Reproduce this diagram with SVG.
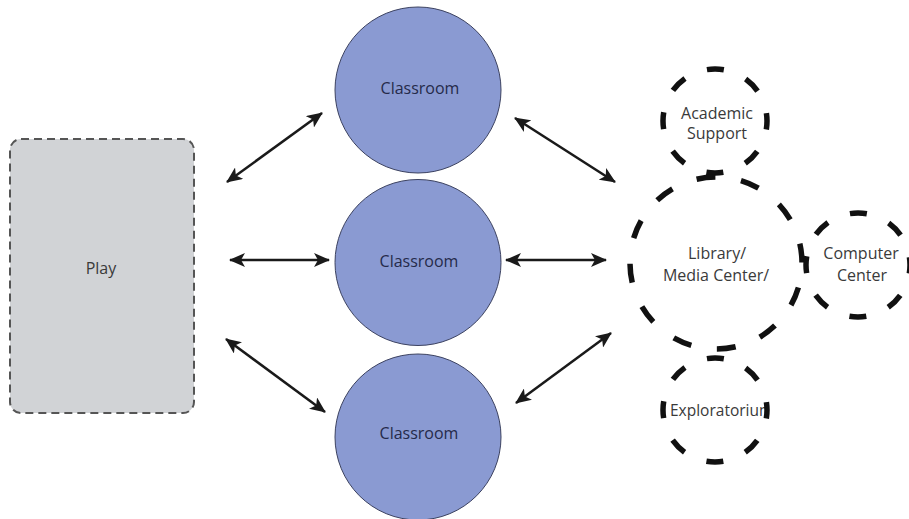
<svg xmlns="http://www.w3.org/2000/svg" width="909" height="519" viewBox="0 0 909 519">
<style>
.cls{fill:#8a9ad2;stroke:#3c4260;stroke-width:1}
.clst{font-family:"Open Sans","Noto Sans",sans-serif;font-size:16px;fill:#252a4a;text-anchor:middle}
.lbl{font-family:"Open Sans","Noto Sans",sans-serif;font-size:16px;fill:#3a3a3a;text-anchor:middle}
.dsm{fill:none;stroke:#111;stroke-width:5.5;stroke-dasharray:17 23.84;stroke-dashoffset:8.5}
.dlg{fill:none;stroke:#111;stroke-width:5.5;stroke-dasharray:19 26;stroke-dashoffset:20}
.arr{stroke:#1a1a1a;stroke-width:2.5;fill:none;marker-start:url(#ah);marker-end:url(#ah)}
</style>
<defs>
<marker id="ah" viewBox="0 0 16 14" markerWidth="16" markerHeight="14" refX="15" refY="7" orient="auto-start-reverse" markerUnits="userSpaceOnUse">
<path d="M0,0 L16,7 L0,14 L4,7 z" fill="#1a1a1a"/>
</marker>
<clipPath id="expclip"><rect x="660" y="390" width="107" height="40"/></clipPath>
</defs>
<rect width="909" height="519" fill="#ffffff"/>
<g id="play">
<rect x="10" y="139" width="184" height="274" rx="11" fill="#d1d3d6" stroke="#555" stroke-width="2" stroke-dasharray="8 5"/>
<text class="lbl" x="101" y="274">Play</text>
</g>
<g id="classroom1">
<circle class="cls" cx="418" cy="90" r="83"/>
<text class="clst" x="420" y="94">Classroom</text>
</g>
<g id="classroom2">
<circle class="cls" cx="418" cy="262.5" r="83"/>
<text class="clst" x="419" y="267">Classroom</text>
</g>
<g id="classroom3">
<circle class="cls" cx="418" cy="437" r="83"/>
<text class="clst" x="419" y="439">Classroom</text>
</g>
<g id="academic">
<circle class="dsm" cx="715" cy="121" r="52"/>
<text class="lbl" x="717" y="119" font-size="14.5">Academic</text>
<text class="lbl" x="717" y="139" font-size="14.5">Support</text>
</g>
<g id="library">
<circle class="dlg" cx="716" cy="263" r="86"/>
<text class="lbl" x="717" y="259">Library/</text>
<text class="lbl" x="716" y="281">Media Center/</text>
</g>
<g id="computer">
<circle class="dsm" cx="858" cy="265" r="52"/>
<text class="lbl" x="861" y="259">Computer</text>
<text class="lbl" x="862" y="281">Center</text>
</g>
<g id="exploratorium">
<text x="670" y="416" clip-path="url(#expclip)" style="font-family:'Open Sans','Noto Sans',sans-serif;font-size:15.5px;fill:#3a3a3a">Exploratorium</text>
<circle class="dsm" cx="715" cy="410" r="52"/>
</g>
<g id="connectors">
<line class="arr" x1="227" y1="182" x2="322" y2="113"/>
<line class="arr" x1="230" y1="260" x2="329" y2="260"/>
<line class="arr" x1="226" y1="339" x2="325" y2="412"/>
<line class="arr" x1="515" y1="118" x2="615" y2="182"/>
<line class="arr" x1="506" y1="260" x2="606" y2="260"/>
<line class="arr" x1="516" y1="403" x2="611" y2="333"/>
</g>
</svg>
